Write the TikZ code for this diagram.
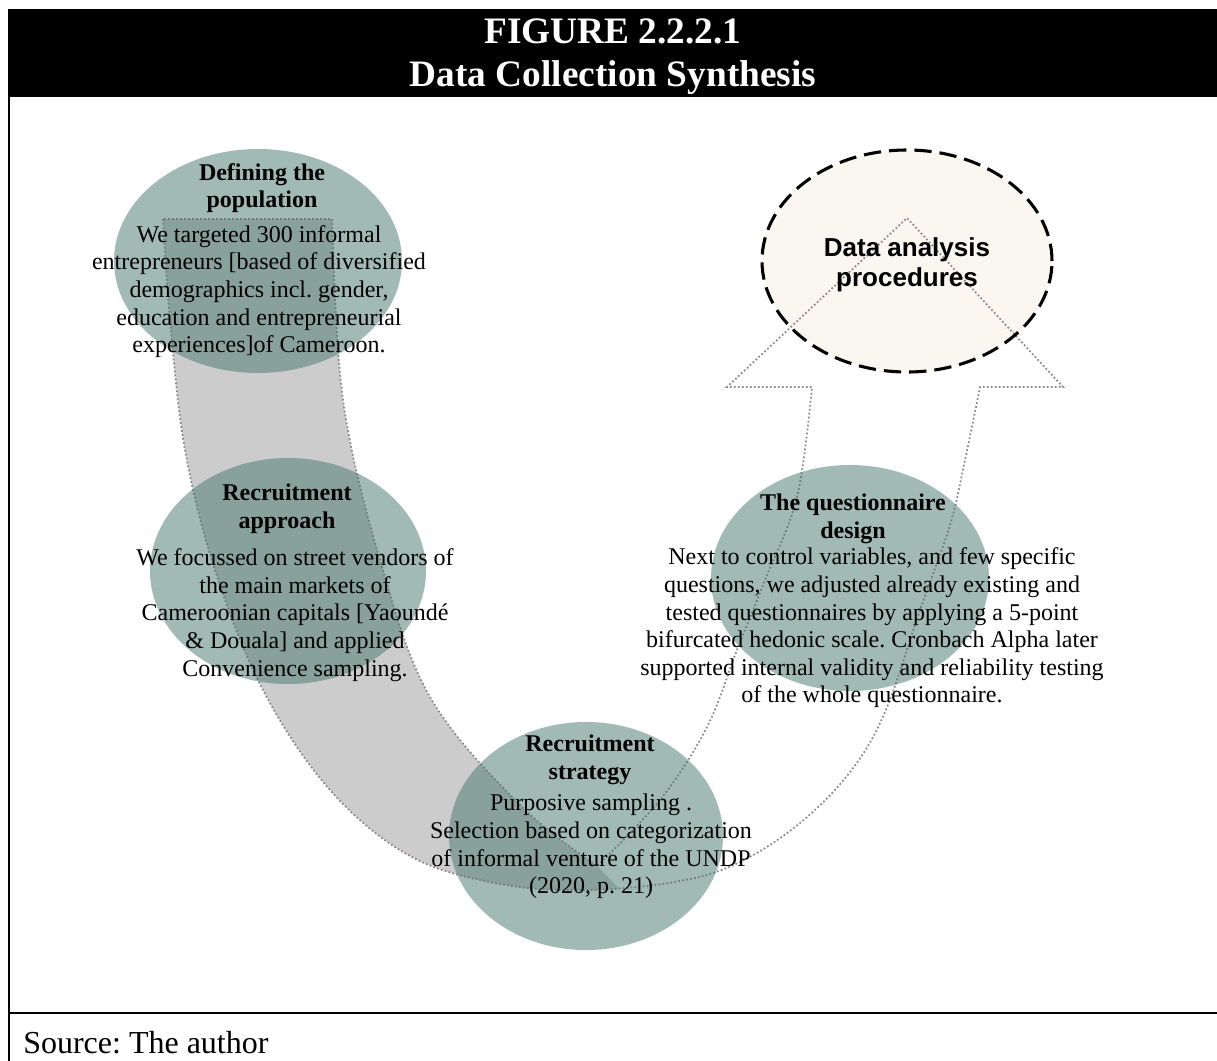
\documentclass[tikz,border=0pt]{standalone}
\usepackage{fontspec}
\setmainfont{Liberation Serif}
\newfontfamily\lsans{Liberation Sans}
\usetikzlibrary{shapes.geometric}
\definecolor{ellgreen}{RGB}{72,120,108}
\definecolor{arrgray}{RGB}{204,204,204}
\definecolor{dotcol}{RGB}{145,133,133}
\definecolor{cream}{RGB}{250,247,240}
\newcommand\uarr[1]{\path[#1] (163,219) -- plot[smooth,tension=0.6] coordinates {(163,219) (170,320) (185,450) (215,570) (263,690) (330,790) (410,856) (500,884) (590,890) (680,881) (740,862) (800,823) (850,772) (885,712) (920,610) (950,525) (965,460) (980,387)} -- (1063,387) -- (907,218) -- (727,387) -- (812,387) -- plot[smooth,tension=0.6] coordinates {(812,387) (797,497) (765,580) (737,650) (707,727) (660,800) (597,866)} -- plot[smooth,tension=0.6] coordinates {(597,866) (520,805) (430,697) (380,560) (343,400) (332,219)} -- cycle;}
\begin{document}
\frenchspacing
\begin{tikzpicture}[x=0.75pt,y=-0.75pt,
  blob/.style={ellipse, draw=none, fill=ellgreen, fill opacity=0.51, inner sep=0pt},
  head/.style={align=center, font=\fontsize{18}{20.7}\selectfont\bfseries, inner sep=0pt},
  body/.style={align=center, font=\fontsize{18}{20.7}\selectfont, inner sep=0pt},
  dotline/.style={draw=dotcol, line width=1.3pt, dash pattern=on 1.3pt off 1.7pt}]

\useasboundingbox (0,0) rectangle (1217,1060);
\fill[white] (0,0) rectangle (1217,1060);

% title bar
\fill[black] (8,9) rectangle (1230,97);
\node[text=white, align=center, inner sep=0pt, font=\fontsize{28}{32.3}\selectfont\bfseries] (title) at (613,57) {FIGURE 2.2.2.1\\Data Collection Synthesis};

% frame
\draw[line width=1.5pt] (9,97) -- (9,1075);
\draw[line width=1.5pt] (9,1013) -- (1235,1013);
\node[anchor=base west, inner sep=0pt, font=\fontsize{24}{28}\selectfont] (src) at (23,1053) {Source: The author};

% target ellipse fill
\node[ellipse, fill=cream, minimum width=217.5pt, minimum height=166.5pt, inner sep=0pt] (da) at (907,261) {};

% U arrow
\begin{scope}
\clip (0,0) -- (597,0) -- (597,866) -- (640,910) -- (640,1060) -- (0,1060) -- cycle;
\uarr{fill=arrgray}
\end{scope}
\uarr{dotline}

% green ellipses
\node[blob, minimum width=216pt, minimum height=168pt] (e1) at (258,261) {};
\node[blob, minimum width=207pt, minimum height=169.5pt] (e2) at (288,571) {};
\node[blob, minimum width=205.5pt, minimum height=171pt] (e3) at (586,836) {};
\node[blob, minimum width=208.5pt, minimum height=169.5pt] (e4) at (850,578) {};

% dashed border of target
\draw[line width=2.3pt, dash pattern=on 13pt off 6pt] (da.center) ellipse [x radius=108.75pt, y radius=83.25pt];

% texts
\node[head] (h1) at (262,188) {Defining the\\population};
\node[body] (b1) at (259,291.6) {We targeted 300 informal\\entrepreneurs [based of diversified\\demographics incl. gender,\\education and entrepreneurial\\experiences]of Cameroon.};

\node[head] (h2) at (287,508.6) {Recruitment\\approach};
\node[body] (b2) at (295,615) {We focussed on street vendors of\\the main markets of\\Cameroonian capitals [Yaoundé\\\& Douala] and applied\\Convenience sampling.};

\node[head] (h3) at (590,759.6) {Recruitment\\strategy};
\node[body] (b3) at (591,846.6) {Purposive sampling .\\Selection based on categorization\\of informal venture of the UNDP\\(2020, p. 21)};

\node[head] (h4) at (853,518.6) {The questionnaire\\design};
\node[body] (b4) at (872,628) {Next to control variables, and few specific\\questions, we adjusted already existing and\\tested questionnaires by applying a 5-point\\bifurcated hedonic scale. Cronbach Alpha later\\supported internal validity and reliability testing\\of the whole questionnaire.};

\node[align=center, inner sep=0pt, font=\fontsize{19.5}{22.5}\selectfont\lsans\bfseries] (t5) at (907,264.5) {Data analysis\\procedures};
\end{tikzpicture}
\end{document}
